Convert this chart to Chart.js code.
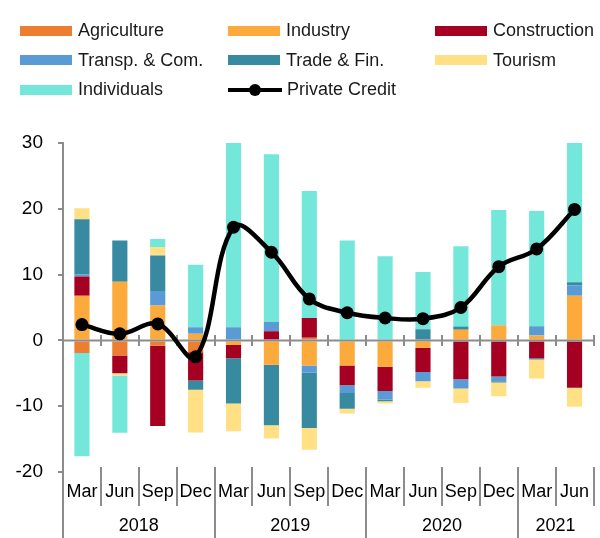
<!DOCTYPE html>
<html>
<head>
<meta charset="utf-8">
<script src="https://cdn.jsdelivr.net/npm/chart.js@4"></script>
<style>
  html, body { margin: 0; padding: 0; background: #fff; }
  #wrap { position: relative; width: 600px; height: 538px; }
  #legend {
    position: absolute; left: 20px; top: 16px;
    display: grid;
    grid-template-columns: 208px 207px 160px;
    grid-auto-rows: 29.5px;
    font-family: "Liberation Sans", Arial, sans-serif;
    font-size: 18px; color: #1a1a1a;
  }
  .item { display: flex; align-items: center; white-space: nowrap; }
  .swatch { width: 52px; height: 10px; margin-right: 6px; flex: none; }
  .lineSwatch { position: relative; width: 54px; height: 12px; margin-right: 5px; flex: none; }
  .lineSwatch::before { content: ''; position: absolute; left: 0; right: 0; top: 4px; height: 4px; background: #000; }
  .lineSwatch::after { content: ''; position: absolute; left: 21px; top: 0; width: 12px; height: 12px; border-radius: 50%; background: #000; }
  canvas { position: absolute; left: 0; top: 0; }
</style>
</head>
<body>
<div id="wrap">
  <canvas id="chart" width="600" height="538"></canvas>
  <div id="legend"></div>
</div>
<script>
const quarters = ['Mar', 'Jun', 'Sep', 'Dec', 'Mar', 'Jun', 'Sep', 'Dec', 'Mar', 'Jun', 'Sep', 'Dec', 'Mar', 'Jun'];
const years = ['2018', '2019', '2020', '2021'];
const quartersPerYear = [4, 4, 4, 2];

const agriculture  = [-1.9, -2.3, -0.8, -1.8, 0, 0, 0.4, 0, 0, 0, 0, 0, 0, 0];
const industry     = [6.8, 8.9, 5.3, 1.0, -0.7, -3.7, -3.8, -3.8, -4.0, -1.1, 1.6, 2.3, 0.75, 6.8];
const construction = [2.9, -2.7, -12.2, -4.3, -2.0, 1.4, 3.0, -3.0, -3.7, -3.7, -5.9, -5.5, -2.7, -7.2];
const transport    = [0.3, 0, 2.2, 1.0, 2.0, 1.4, -1.1, -1.2, -1.3, -1.4, -1.4, -0.7, 1.4, 1.6];
const tradeFin     = [8.4, 6.3, 5.4, -1.4, -6.9, -9.2, -8.4, -2.4, -0.25, 1.7, 0.5, -0.2, -0.2, 0.45];
const tourism      = [1.7, -0.35, 1.3, -6.5, -4.2, -2.0, -3.3, -0.7, -0.35, -1.0, -2.2, -2.1, -2.9, -2.9];
const individuals  = [-15.7, -8.7, 1.2, 9.5, 29.0, 25.5, 19.3, 15.2, 12.8, 8.7, 12.2, 17.5, 17.5, 22.5];
const privateCredit = [2.4, 1.0, 2.5, -2.5, 17.2, 13.4, 6.3, 4.2, 3.4, 3.3, 5.0, 11.2, 13.9, 19.9];

const FONT = '"Liberation Sans", Arial, sans-serif';
const GREY = '#8c8c8c';

const sectors = [
  { label: 'Agriculture', data: agriculture, color: '#ed7d31' },
  { label: 'Industry', data: industry, color: '#fcaa3c' },
  { label: 'Construction', data: construction, color: '#a50021' },
  { label: 'Transp. & Com.', data: transport, color: '#5b9bd5' },
  { label: 'Trade & Fin.', data: tradeFin, color: '#388aa1' },
  { label: 'Tourism', data: tourism, color: '#ffe084' },
  { label: 'Individuals', data: individuals, color: '#74e7db' }
];

const datasets = sectors.map(s => ({
  type: 'bar',
  label: s.label,
  data: s.data,
  backgroundColor: s.color,
  borderWidth: 0,
  stack: 'sectors',
  order: 1,
  barPercentage: 0.4,
  categoryPercentage: 1
}));

datasets.push({
  type: 'line',
  label: 'Private Credit',
  data: privateCredit,
  borderColor: '#000',
  backgroundColor: '#000',
  borderWidth: 4.5,
  pointRadius: 6.5,
  pointBackgroundColor: '#000',
  pointBorderWidth: 0,
  tension: 0.38,
  stack: 'credit',
  order: 0
});

// zero line with boundary ticks, drawn over bars but under the credit line
const zeroLine = {
  id: 'zeroLine',
  beforeDatasetDraw(chart, args) {
    if (args.index !== datasets.length - 1) return;
    const { ctx, chartArea } = chart;
    const y0 = chart.scales.y.getPixelForValue(0);
    const step = (chartArea.right - chartArea.left) / quarters.length;
    ctx.save();
    ctx.strokeStyle = GREY;
    ctx.lineWidth = 2;
    ctx.beginPath();
    ctx.moveTo(chartArea.left, y0);
    ctx.lineTo(chartArea.right, y0);
    for (let i = 1; i <= quarters.length; i++) {
      const x = Math.round(chartArea.left + i * step);
      ctx.moveTo(x, y0 - 5.5);
      ctx.lineTo(x, y0 + 5.5);
    }
    ctx.stroke();
    ctx.restore();
  }
};

// category separators, year separators and year labels
const yearAxis = {
  id: 'yearAxis',
  afterDraw(chart) {
    const { ctx, chartArea } = chart;
    const step = (chartArea.right - chartArea.left) / quarters.length;
    const top = chartArea.bottom - 5;
    const yearBounds = [0];
    quartersPerYear.forEach(n => yearBounds.push(yearBounds[yearBounds.length - 1] + n));
    ctx.save();
    ctx.strokeStyle = GREY;
    ctx.lineWidth = 2;
    ctx.beginPath();
    for (let i = 0; i <= quarters.length; i++) {
      const x = Math.round(chartArea.left + i * step);
      const isYear = yearBounds.includes(i) && i < quarters.length;
      ctx.moveTo(x, top);
      ctx.lineTo(x, isYear ? 538 : 506);
    }
    ctx.stroke();
    ctx.fillStyle = '#000';
    ctx.font = '18px ' + FONT;
    ctx.textAlign = 'center';
    ctx.textBaseline = 'middle';
    years.forEach((yr, k) => {
      const mid = (yearBounds[k] + yearBounds[k + 1]) / 2;
      ctx.fillText(yr, chartArea.left + mid * step, 526);
    });
    ctx.restore();
  }
};

const chart = new Chart(document.getElementById('chart'), {
  type: 'bar',
  data: { labels: quarters, datasets: datasets },
  options: {
    responsive: false,
    animation: false,
    layout: { padding: { top: 143, right: 1, left: 0, bottom: 0 } },
    plugins: {
      legend: { display: false },
      tooltip: { enabled: false }
    },
    scales: {
      x: {
        stacked: true,
        grid: { display: false, drawTicks: false },
        border: { display: false },
        ticks: {
          color: '#000',
          font: { family: FONT, size: 18 },
          padding: 9,
          maxRotation: 0,
          autoSkip: false
        },
        afterFit(scale) { scale.height = 66; }
      },
      y: {
        stacked: true,
        min: -20,
        max: 30,
        ticks: {
          stepSize: 10,
          color: '#000',
          font: { family: FONT, size: 19 },
          padding: 15
        },
        grid: {
          drawOnChartArea: false,
          drawTicks: true,
          tickLength: 5,
          color: GREY,
          lineWidth: 2
        },
        border: { display: true, color: GREY, width: 2 },
        afterFit(scale) { scale.width = 63; }
      }
    }
  },
  plugins: [zeroLine, yearAxis]
});

// legend in three columns, built from the chart's datasets
const legend = document.getElementById('legend');
chart.data.datasets.forEach(ds => {
  const item = document.createElement('div');
  item.className = 'item';
  const sw = document.createElement('span');
  if (ds.type === 'line') {
    sw.className = 'lineSwatch';
  } else {
    sw.className = 'swatch';
    sw.style.background = ds.backgroundColor;
  }
  const txt = document.createElement('span');
  txt.textContent = ds.label;
  item.appendChild(sw);
  item.appendChild(txt);
  legend.appendChild(item);
});
</script>
</body>
</html>
